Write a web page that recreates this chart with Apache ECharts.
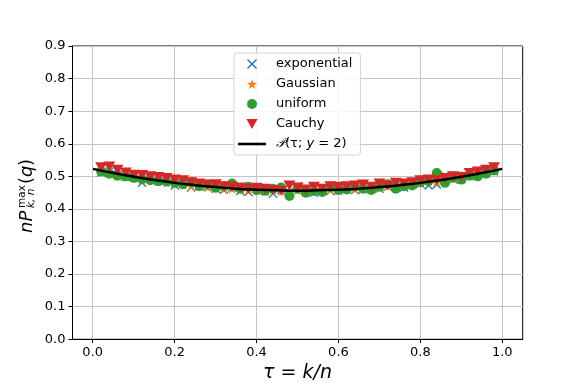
<!DOCTYPE html>
<html>
<head>
<meta charset="utf-8">
<script src="https://cdn.jsdelivr.net/npm/echarts@6/dist/echarts.min.js"></script>
<style>
  html, body { margin: 0; padding: 0; background: #fff; }
  #chart { width: 581px; height: 388px; }
</style>
</head>
<body>
<div id="chart"></div>
<script>
// tau = k/n sample positions
const tau = [0.02, 0.04, 0.06, 0.08, 0.10, 0.12, 0.14, 0.16, 0.18, 0.20,
             0.22, 0.24, 0.26, 0.28, 0.30, 0.32, 0.34, 0.36, 0.38, 0.40,
             0.42, 0.44, 0.46, 0.48, 0.50, 0.52, 0.54, 0.56, 0.58, 0.60,
             0.62, 0.64, 0.66, 0.68, 0.70, 0.72, 0.74, 0.76, 0.78, 0.80,
             0.82, 0.84, 0.86, 0.88, 0.90, 0.92, 0.94, 0.96, 0.98]

const expVals = [0.512, 0.515, 0.505, 0.498, 0.497, 0.480, 0.494, 0.485, 0.490, 0.472,
                 0.478, 0.466, 0.470, 0.468, 0.462, 0.460, 0.466, 0.455, 0.452, 0.462,
                 0.456, 0.447, 0.458, 0.452, 0.470, 0.457, 0.450, 0.462, 0.455, 0.457,
                 0.462, 0.458, 0.460, 0.470, 0.462, 0.468, 0.468, 0.466, 0.475, 0.477,
                 0.472, 0.475, 0.502, 0.490, 0.492, 0.500, 0.504, 0.510, 0.515]

const gaussVals = [0.520, 0.510, 0.503, 0.505, 0.497, 0.490, 0.492, 0.488, 0.482, 0.481,
                   0.476, 0.472, 0.472, 0.468, 0.465, 0.462, 0.463, 0.458, 0.460, 0.457,
                   0.454, 0.460, 0.455, 0.452, 0.458, 0.456, 0.459, 0.455, 0.460, 0.458,
                   0.462, 0.461, 0.466, 0.468, 0.466, 0.472, 0.470, 0.476, 0.478, 0.480,
                   0.486, 0.485, 0.492, 0.495, 0.500, 0.505, 0.512, 0.515, 0.522]

const unifVals = [0.515, 0.508, 0.502, 0.500, 0.495, 0.492, 0.488, 0.485, 0.484, 0.480,
                  0.476, 0.482, 0.470, 0.476, 0.465, 0.470, 0.478, 0.462, 0.468, 0.458,
                  0.456, 0.462, 0.466, 0.440, 0.462, 0.450, 0.455, 0.452, 0.468, 0.458,
                  0.460, 0.470, 0.462, 0.458, 0.468, 0.476, 0.462, 0.470, 0.472, 0.482,
                  0.486, 0.510, 0.480, 0.496, 0.490, 0.502, 0.500, 0.508, 0.518]

const cauchyVals = [0.528, 0.530, 0.520, 0.512, 0.505, 0.504, 0.500, 0.498, 0.495, 0.490,
                    0.488, 0.482, 0.478, 0.474, 0.476, 0.470, 0.468, 0.466, 0.462, 0.465,
                    0.462, 0.458, 0.456, 0.472, 0.466, 0.460, 0.468, 0.462, 0.470, 0.468,
                    0.470, 0.472, 0.475, 0.468, 0.478, 0.472, 0.480, 0.478, 0.482, 0.488,
                    0.490, 0.488, 0.495, 0.500, 0.498, 0.510, 0.515, 0.520, 0.528]

// theory curve P(tau; y=2)
const curveTau = [0, 0.05, 0.10, 0.15, 0.20, 0.25, 0.30, 0.35, 0.40, 0.45, 0.50,
                  0.55, 0.60, 0.65, 0.70, 0.75, 0.80, 0.85, 0.90, 0.95, 1.0]
const curveVals = [0.523, 0.510, 0.499, 0.489, 0.480, 0.473, 0.467, 0.462, 0.459, 0.457, 0.456,
                   0.457, 0.459, 0.462, 0.467, 0.473, 0.480, 0.489, 0.499, 0.510, 0.523]

const seriesNames = ['exponential', 'Gaussian', 'uniform', 'Cauchy', 'P(τ; y = 2)']

const COLORS = ['#1f77b4', '#ff7f0e', '#2ca02c', '#d62728']
const CROSS = 'path://M0,1L1,0L5,4L9,0L10,1L6,5L10,9L9,10L5,6L1,10L0,9L4,5Z'
const STAR = 'path://M10,0L12.25,6.91L19.51,6.91L13.63,11.18L15.88,18.09L10,13.82L4.12,18.09L6.37,11.18L0.49,6.91L7.75,6.91Z'
const TRI_DOWN = 'path://M0,0L10,0L5,9Z'
const LINE_ICON = 'path://M0,0L28,0L28,2.6L0,2.6Z'

const pairs = vals => tau.map((t, i) => [t, vals[i]])

const chart = echarts.init(document.getElementById('chart'))

const FONT = 'DejaVu Sans'
const GRID_C = '#c4c4c4'

chart.setOption({
  animation: false,
  textStyle: { fontFamily: FONT },
  grid: [
    { left: 72.5, right: 58.3, top: 46, bottom: 48.7, show: true, borderColor: '#000', borderWidth: 1, backgroundColor: 'transparent' },
    { left: 92.7, right: 78.7, top: 46, bottom: 48.7 },
  ],
  xAxis: [
    {
      type: 'value', gridIndex: 0, min: -0.05, max: 1.05,
      axisLine: { show: true, onZero: false, lineStyle: { color: '#000' } },
      axisTick: { show: false }, axisLabel: { show: false }, splitLine: { show: false },
    },
    {
      type: 'value', gridIndex: 1, min: 0, max: 1, interval: 0.2,
      axisLine: { show: false, onZero: false },
      axisTick: { show: true, inside: false, length: 4, lineStyle: { color: '#000' } },
      axisLabel: { color: '#000', fontSize: 13, margin: 7, formatter: v => v.toFixed(1) },
      splitLine: { show: true, lineStyle: { color: GRID_C, width: 1 } },
      name: 'τ = k/n', nameLocation: 'middle', nameGap: 24,
      nameTextStyle: { fontSize: 19, fontStyle: 'italic', color: '#000' },
    },
  ],
  yAxis: [
    {
      type: 'value', gridIndex: 0, min: 0, max: 0.9, interval: 0.1,
      axisLine: { show: true, onZero: false, lineStyle: { color: '#000' } },
      axisTick: { show: true, inside: false, length: 4, lineStyle: { color: '#000' } },
      axisLabel: { color: '#000', fontSize: 13, margin: 7, formatter: v => v.toFixed(1) },
      splitLine: { show: true, lineStyle: { color: GRID_C, width: 1 } },
    },
    { type: 'value', gridIndex: 1, min: 0, max: 1, show: false },
  ],
  legend: {
    orient: 'vertical',
    left: 234, top: 53,
    padding: [4, 8, 4, 4],
    itemWidth: 28, itemHeight: 10, itemGap: 6,
    backgroundColor: 'rgba(255,255,255,0.85)',
    borderColor: '#d4d4d4', borderWidth: 1, borderRadius: 3,
    data: [
      seriesNames[0], seriesNames[1], seriesNames[2], seriesNames[3],
      { name: seriesNames[4], icon: LINE_ICON, itemStyle: { color: '#000' } },
    ],
    formatter: name => name === seriesNames[4] ? '{c|𝒫}(τ; {i|y} = 2)' : name,
    textStyle: {
      fontSize: 13, color: '#000', lineHeight: 14, padding: [0, 0, 0, 5],
      rich: {
        c: { fontSize: 13, fontStyle: 'italic', fontFamily: 'DejaVu Serif' },
        i: { fontSize: 13, fontStyle: 'italic' },
      },
    },
  },
  series: [
    { name: seriesNames[0], type: 'scatter', data: pairs(expVals), symbol: CROSS, symbolSize: 9,
      itemStyle: { color: COLORS[0], opacity: 1 } },
    { name: seriesNames[1], type: 'scatter', data: pairs(gaussVals), symbol: STAR, symbolSize: 11,
      itemStyle: { color: COLORS[1], opacity: 1 } },
    { name: seriesNames[2], type: 'scatter', data: pairs(unifVals), symbol: 'circle', symbolSize: 10,
      itemStyle: { color: COLORS[2], opacity: 1 } },
    { name: seriesNames[3], type: 'scatter', data: pairs(cauchyVals), symbol: TRI_DOWN, symbolSize: [12, 10],
      itemStyle: { color: COLORS[3], opacity: 1 } },
    { name: seriesNames[4], type: 'line', data: curveTau.map((t, i) => [t, curveVals[i]]),
      smooth: true, symbol: 'none', showSymbol: false, z: 5,
      lineStyle: { color: '#000', width: 2.5 }, itemStyle: { color: '#000' } },
  ],
  graphic: [
    {
      type: 'group', x: 27, y: 233, rotation: Math.PI / 2,
      children: [
        { type: 'text', x: 0, y: 0, style: { text: 'nP', font: 'italic 18px "DejaVu Sans"', fill: '#000', verticalAlign: 'middle' } },
        { type: 'text', x: 25, y: -5, style: { text: 'max', font: '10.5px "DejaVu Sans"', fill: '#000', verticalAlign: 'middle' } },
        { type: 'text', x: 25, y: 4, style: { text: 'k, n', font: 'italic 10.5px "DejaVu Sans"', fill: '#000', verticalAlign: 'middle' } },
        { type: 'text', x: 49, y: 0, style: { text: '(', font: '18px "DejaVu Sans"', fill: '#000', verticalAlign: 'middle' } },
        { type: 'text', x: 56, y: 0, style: { text: 'q', font: 'italic 18px "DejaVu Sans"', fill: '#000', verticalAlign: 'middle' } },
        { type: 'text', x: 67, y: 0, style: { text: ')', font: '18px "DejaVu Sans"', fill: '#000', verticalAlign: 'middle' } },
      ],
    },
  ],
})
</script>
</body>
</html>
